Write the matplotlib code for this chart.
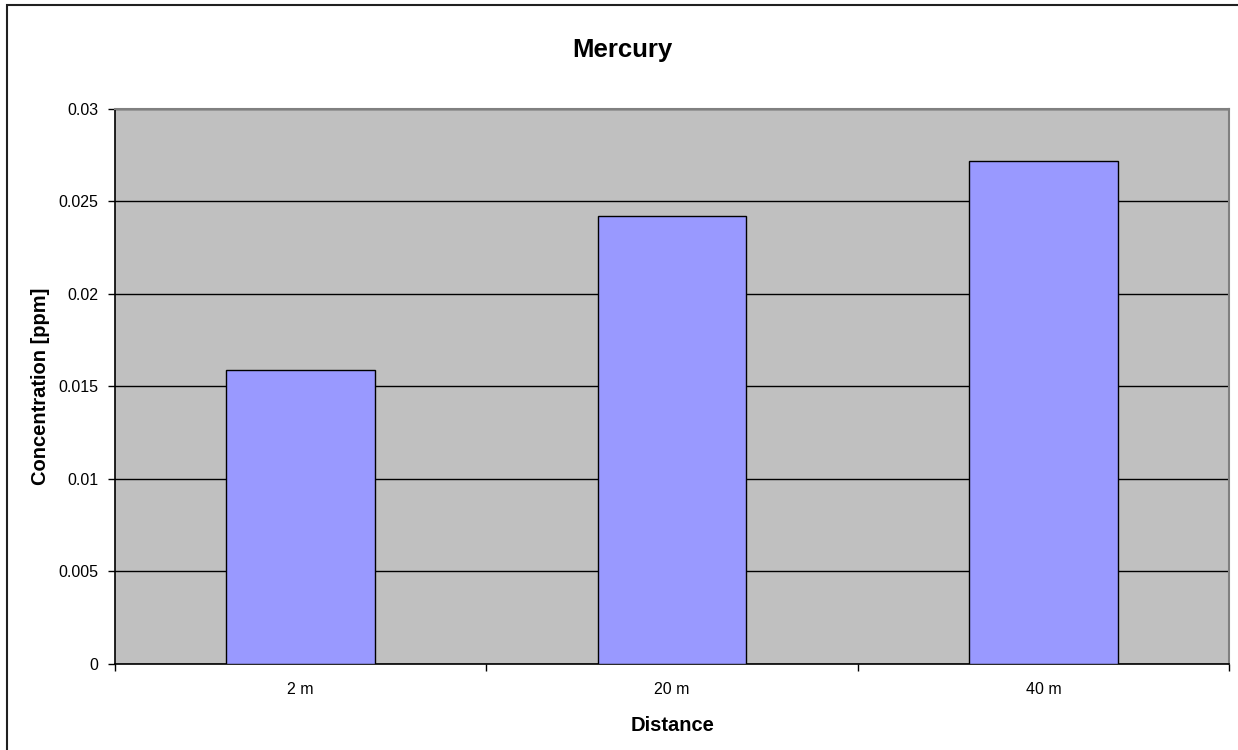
import matplotlib.pyplot as plt
from matplotlib.patches import Rectangle

plt.rcParams['font.family'] = ['Liberation Sans', 'DejaVu Sans']

# Mercury concentration by distance
distances = ['2 m', '20 m', '40 m']
concentration = [0.0159, 0.0242, 0.0272]
y_ticks = [0, 0.005, 0.01, 0.015, 0.02, 0.025, 0.03]
y_tick_labels = ['0', '0.005', '0.01', '0.015', '0.02', '0.025', '0.03']

fig = plt.figure(figsize=(12.38, 7.5), dpi=100)
ax = fig.add_axes([0.0929, 0.1147, 0.9000, 0.7400])

ax.set_facecolor('#C0C0C0')
x = list(range(len(distances)))
ax.bar(x, concentration, width=0.4, color='#9999FF', edgecolor='black',
       linewidth=1.0, zorder=3)

ax.set_xlim(-0.5, len(distances) - 0.5)
ax.set_ylim(0, 0.03)
ax.set_yticks(y_ticks)
ax.set_yticklabels(y_tick_labels)
ax.yaxis.grid(True, color='black', linewidth=1.0, zorder=1)
ax.set_axisbelow(True)

# category labels centred, tick marks on the category boundaries
ax.set_xticks(x)
ax.set_xticklabels(distances)
ax.tick_params(axis='x', length=0, labelsize=11.5, pad=13)
ax.set_xticks([i - 0.5 for i in range(len(distances) + 1)], minor=True)
ax.tick_params(axis='x', which='minor', length=5, width=1, color='black')
ax.tick_params(axis='y', length=5, width=1, labelsize=11.5, pad=7)

for side in ['top', 'right']:
    ax.spines[side].set_color('#808080')
    ax.spines[side].set_linewidth(1.5)
for side in ['left', 'bottom']:
    ax.spines[side].set_color('black')
    ax.spines[side].set_linewidth(1.2)

ax.set_xlabel('Distance', fontsize=14.5, fontweight='bold', labelpad=14)
ax.set_ylabel('Concentration [ppm]', fontsize=14.5, fontweight='bold', labelpad=6)
fig.text(0.503, 0.933, 'Mercury', ha='center', va='center',
         fontsize=18.5, fontweight='bold')

# chart area border
fig.patches.append(Rectangle((7 / 1238, -0.02), 1.1, 1 - 5 / 750 + 0.02,
                             transform=fig.transFigure, fill=False,
                             edgecolor='#202020', linewidth=1.5))

fig.savefig('out.png', dpi=100, facecolor='white')
